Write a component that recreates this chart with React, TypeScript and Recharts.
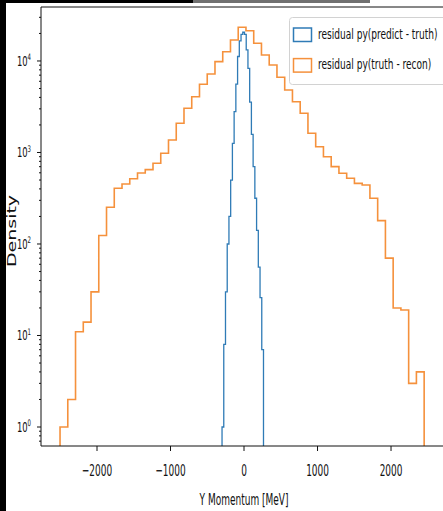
import React from 'react';
import { LineChart, Line, XAxis, YAxis, Legend, ReferenceLine } from 'recharts';

// Histogram bin edges (MeV) and counts
const orangeEdges = [
  -2503, -2397.6, -2292.2, -2186.8, -2081.4, -1976, -1870.6, -1765.2, -1659.8, -1554.4,
  -1449, -1343.6, -1238.2, -1132.8, -1027.4, -922, -816.6, -711.2, -605.8, -500.4,
  -395, -289.6, -184.2, -78.8, 26.6, 132, 237.4, 342.8, 448.2, 553.6,
  659, 764.4, 869.8, 975.2, 1080.6, 1186, 1291.4, 1396.8, 1502.2, 1607.6,
  1713, 1818.4, 1923.8, 2029.2, 2134.6, 2240, 2345.4, 2450.8,
];
const orangeCounts = [
  1, 2, 11, 14, 30, 124, 252, 406, 453, 517,
  597, 649, 762, 980, 1370, 2085, 3040, 4070, 5560, 7210,
  9830, 12600, 16980, 23350, 21400, 15600, 11640, 9040, 6640, 4820,
  3590, 2680, 1622, 1156, 900, 700, 593, 522, 460, 441,
  316, 180, 70, 20, 19, 3, 4,
];
const blueEdges = [
  -299, -275.5, -252, -228.5, -205, -181.5, -158, -134.5, -111, -87.5,
  -64, -40.5, -17, 6.5, 30, 53.5, 77, 100.5, 124, 147.5,
  171, 194.5, 218, 241.5, 265,
];
const blueCounts = [
  1, 8, 30, 100, 200, 500, 1260, 2800, 5600, 11200,
  16600, 19500, 20600, 19500, 13200, 8300, 3550, 1580, 700, 316,
  141, 56, 26, 7,
];

const xTicks = [-2000, -1000, 0, 1000, 2000];
const yMajorTicks = [1, 10, 100, 1000, 10000];
const yMinorTicks = [
  0.7, 0.8, 0.9,
  2, 3, 4, 5, 6, 7, 8, 9,
  20, 30, 40, 50, 60, 70, 80, 90,
  200, 300, 400, 500, 600, 700, 800, 900,
  2000, 3000, 4000, 5000, 6000, 7000, 8000, 9000,
  20000, 30000,
];
const seriesNames = ['residual py(predict - truth)', 'residual py(truth - recon)'];
const seriesColors = ['#2f7bb6', '#f5913c'];

const X_DOMAIN = [-2762, 2748];
const Y_DOMAIN = [0.62, 38900];
const FLOOR = 0.1; // below the axis; outline drops to baseline and is clipped

const FONT = 'DejaVu Sans';

function toSteps(edges: number[], counts: number[]) {
  const pts: { x: number; y: number }[] = [{ x: edges[0], y: FLOOR }];
  counts.forEach((c, i) => pts.push({ x: edges[i], y: c }));
  pts.push({ x: edges[edges.length - 1], y: FLOOR });
  return pts;
}

const blueData = toSteps(blueEdges, blueCounts);
const orangeData = toSteps(orangeEdges, orangeCounts);

const XTick = (props: any) => {
  const { x, y, payload } = props;
  const v = payload.value as number;
  const label = v < 0 ? '\u2212' + Math.abs(v) : String(v);
  return (
    <g transform={`translate(${x},${y + 23}) scale(0.56,1)`}>
      <text x={0} y={0} textAnchor="middle" fontSize={16} fill="#111" fontFamily={FONT}>
        {label}
      </text>
    </g>
  );
};

const YTick = (props: any) => {
  const { x, y, payload } = props;
  const v = payload.value as number;
  const major = yMajorTicks.includes(v);
  const len = major ? 4 : 2;
  const exp = Math.round(Math.log10(v));
  return (
    <g>
      <line x1={x - len} x2={x} y1={y} y2={y} stroke="#111" strokeWidth={1} />
      {major && (
        <g transform={`translate(${x - 10},${y + 5}) scale(0.6,1)`}>
          <text x={0} y={0} textAnchor="end" fontSize={14} fill="#111" fontFamily={FONT}>
            <tspan>10</tspan>
            <tspan dy={-6} fontSize={9}>{exp}</tspan>
          </text>
        </g>
      )}
    </g>
  );
};

const XLabel = () => (
  <g transform="translate(244,505) scale(0.6,1)">
    <text x={0} y={0} textAnchor="middle" fontSize={15} fill="#111" fontFamily={FONT}>
      Y Momentum [MeV]
    </text>
  </g>
);

const YLabel = () => (
  <g transform="translate(12,231) scale(0.65,1) rotate(-90)">
    <text x={0} y={5.7} textAnchor="middle" fontSize={19} fill="#111" fontFamily={FONT}>
      Density
    </text>
  </g>
);

const LegendContent = () => (
  <svg width={160} height={68} style={{ display: 'block' }}>
    <rect x={0.5} y={0.5} width={170} height={67} rx={3} fill="rgba(255,255,255,0.85)" stroke="#d2d2d2" />
    {seriesNames.map((name, i) => (
      <g key={name}>
        <rect x={4.5} y={11 + i * 30.6} width={18} height={13.5} fill="none" stroke={seriesColors[i]} strokeWidth={1.5} />
        <g transform={`translate(29,${21.5 + i * 30.6}) scale(0.68,1)`}>
          <text x={0} y={0} fontSize={13.3} fill="#111" fontFamily={FONT}>
            {name}
          </text>
        </g>
      </g>
    ))}
  </svg>
);

export default function App() {
  return (
    <div
      style={{
        position: 'fixed',
        left: 0,
        top: 0,
        width: 443,
        height: 511,
        overflow: 'hidden',
        background: '#fff',
      }}
    >
      <LineChart
        width={448}
        height={511}
        margin={{ top: 7, right: 2, bottom: 35, left: 0 }}
        style={{ position: 'absolute', left: 0, top: 0 }}
      >
        <XAxis
          type="number"
          dataKey="x"
          domain={X_DOMAIN}
          ticks={xTicks}
          allowDataOverflow
          height={30}
          tickSize={5}
          tickMargin={2}
          axisLine={{ stroke: '#111' }}
          tickLine={{ stroke: '#111' }}
          tick={<XTick />}
          label={<XLabel />}
        />
        <YAxis
          type="number"
          dataKey="y"
          scale="log"
          domain={Y_DOMAIN}
          ticks={[...yMajorTicks, ...yMinorTicks]}
          allowDataOverflow
          width={41}
          tickLine={false}
          tickSize={0}
          tickMargin={0}
          axisLine={{ stroke: '#111' }}
          tick={<YTick />}
          interval={0}
          label={<YLabel />}
        />
        <ReferenceLine y={Y_DOMAIN[1]} stroke="#111" strokeWidth={1} />
        <Line
          data={blueData}
          dataKey="y"
          name={seriesNames[0]}
          type="stepAfter"
          stroke={seriesColors[0]}
          strokeWidth={1.3}
          dot={false}
          activeDot={false}
          isAnimationActive={false}
        />
        <Line
          data={orangeData}
          dataKey="y"
          name={seriesNames[1]}
          type="stepAfter"
          stroke={seriesColors[1]}
          strokeWidth={1.6}
          dot={false}
          activeDot={false}
          isAnimationActive={false}
        />
        <Legend
          layout="vertical"
          align="center"
          verticalAlign="middle"
          wrapperStyle={{ position: 'absolute', left: 289, top: 17, width: 160, height: 68 }}
          content={<LegendContent />}
        />
      </LineChart>
      <div style={{ position: 'absolute', left: 0, top: 0, width: 6, height: 511, background: '#000' }} />
      <div style={{ position: 'absolute', left: 0, top: 0, width: 193, height: 3, background: '#000' }} />
      <div style={{ position: 'absolute', left: 193, top: 0, width: 177, height: 3, background: '#707070' }} />
    </div>
  );
}
